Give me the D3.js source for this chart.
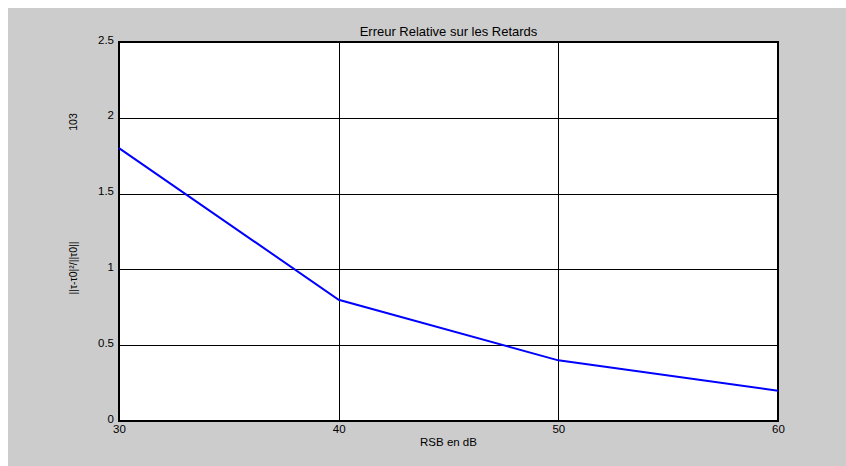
<!DOCTYPE html>
<html><head><meta charset="utf-8">
<script src="https://cdn.jsdelivr.net/npm/d3@7"></script>
<style>body{margin:0;background:#fff}svg{display:block}text{font-family:"Liberation Sans",Arial,sans-serif}</style>
</head><body><svg id="c" width="846" height="466"></svg>
<script>
const snr = [30, 40, 50, 60];
const err = [1.8, 0.8, 0.4, 0.2];
const xTicks = [30, 40, 50, 60];
const yTicks = [0, 0.5, 1, 1.5, 2, 2.5];
const title = "Erreur Relative sur les Retards";
const xLabel = "RSB en dB";
const yLabel = "||τ-τ0|²/||τ0||";
const yScaleLabel = "103";

const svg = d3.select("#c");
svg.append("rect").attr("x",8).attr("y",8).attr("width",838).attr("height",458).attr("fill","#cccccc");
const L=119, R=778, T=42, B=421;
const x = d3.scaleLinear().domain([30,60]).range([L,R]);
const y = d3.scaleLinear().domain([0,2.5]).range([B,T]);
svg.append("rect").attr("x",L).attr("y",T).attr("width",R-L).attr("height",B-T).attr("fill","#fff");
// grid
svg.append("g").selectAll("line").data(xTicks.slice(1,-1)).join("line")
  .attr("x1",d=>Math.round(x(d))+0.5).attr("x2",d=>Math.round(x(d))+0.5).attr("y1",T).attr("y2",B)
  .attr("stroke","#000").attr("stroke-width",1);
svg.append("g").selectAll("line").data(yTicks.slice(1,-1)).join("line")
  .attr("y1",d=>Math.round(y(d))+0.5).attr("y2",d=>Math.round(y(d))+0.5).attr("x1",L).attr("x2",R)
  .attr("stroke","#000").attr("stroke-width",1);
// axes
const xa = svg.append("g").attr("transform",`translate(0,${B})`)
  .call(d3.axisBottom(x).tickValues(xTicks).tickSize(0).tickPadding(4).tickFormat(d3.format("d")));
xa.select(".domain").remove();
xa.selectAll("text").attr("font-size",11.5).attr("fill","#000").attr("font-family","Liberation Sans, Arial, sans-serif");
const ya = svg.append("g").attr("transform",`translate(${L},0)`)
  .call(d3.axisLeft(y).tickValues(yTicks).tickSize(0).tickPadding(5).tickFormat(d=>String(d)));
ya.select(".domain").remove();
ya.selectAll("text").attr("font-size",11.5).attr("fill","#000").attr("font-family","Liberation Sans, Arial, sans-serif")
  .attr("dy","0.1em");
// frame
svg.append("rect").attr("x",L).attr("y",T).attr("width",R-L).attr("height",B-T)
  .attr("fill","none").attr("stroke","#000").attr("stroke-width",2);
// line
svg.append("path").datum(snr.map((s,i)=>[s,err[i]]))
  .attr("d",d3.line().x(d=>x(d[0])).y(d=>y(d[1])))
  .attr("fill","none").attr("stroke","#0000ff").attr("stroke-width",2);
// texts
svg.append("text").attr("x",(L+R)/2).attr("y",36).attr("text-anchor","middle").attr("font-size",13).text(title);
svg.append("text").attr("x",(L+R)/2).attr("y",446).attr("text-anchor","middle").attr("font-size",11.5).text(xLabel);
svg.append("text").attr("transform","translate(77,268) rotate(-90)").attr("text-anchor","middle").attr("font-size",10.5).text(yLabel);
svg.append("text").attr("transform","translate(77,122) rotate(-90)").attr("text-anchor","middle").attr("font-size",10.5).text(yScaleLabel);
</script></body></html>
